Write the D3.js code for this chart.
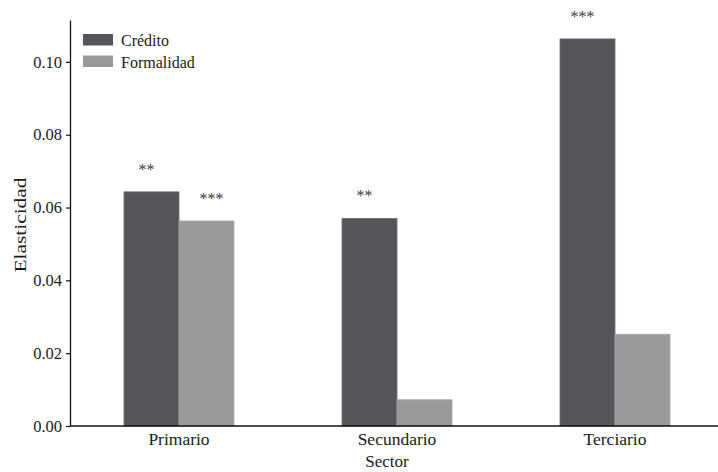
<!DOCTYPE html>
<html>
<head>
<meta charset="utf-8">
<script src="https://cdn.jsdelivr.net/npm/d3@7"></script>
<style>
  body { margin: 0; background: #fff; }
  svg { display: block; }
  text { font-family: "Liberation Serif", "DejaVu Serif", serif; }
</style>
</head>
<body>
<svg id="chart" width="718" height="472"></svg>
<script>
// Elasticities by economic sector
const sectors = ["Primario", "Secundario", "Terciario"];
const seriesNames = ["Crédito", "Formalidad"];
const credito = [0.0643, 0.0570, 0.1063];
const formalidad = [0.0563, 0.0072, 0.0252];
const sigCredito = ["**", "**", "***"];
const sigFormalidad = ["***", "", ""];
const yTicks = [0, 0.02, 0.04, 0.06, 0.08, 0.10];
const colors = ["#55565b", "#999999"];
const strokes = ["#6b6c71", "#a9a9a9"];

const svg = d3.select("#chart");
const plotLeft = 70, plotRight = 718, plotTop = 20, plotBottom = 426;
const serif = "Liberation Serif, serif";

const y = d3.scaleLinear().domain([0, 0.1115]).range([plotBottom, plotTop]);
const x0 = d3.scaleBand().domain(sectors).range([plotLeft, 724]);
const x1 = d3.scaleBand().domain(seriesNames)
  .range([x0.bandwidth() / 2 - 55, x0.bandwidth() / 2 + 55]);

const values = [credito, formalidad];
const sigs = [sigCredito, sigFormalidad];
const starShift = [-5, 5];

// bars with significance stars
sectors.forEach((s, i) => {
  seriesNames.forEach((name, k) => {
    const v = values[k][i];
    svg.append("rect")
      .attr("x", x0(s) + x1(name))
      .attr("y", y(v))
      .attr("width", x1.bandwidth())
      .attr("height", y(0) - y(v))
      .attr("fill", colors[k])
      .attr("stroke", strokes[k])
      .attr("stroke-width", 0.8);
    if (sigs[k][i]) {
      svg.append("text")
        .attr("x", x0(s) + x1(name) + x1.bandwidth() / 2 + starShift[k])
        .attr("y", y(v) - 17)
        .attr("text-anchor", "middle")
        .attr("font-size", 16)
        .attr("fill", "#3a3a3a")
        .text(sigs[k][i]);
    }
  });
});

// y axis
const yAxis = svg.append("g")
  .attr("transform", `translate(${plotLeft},0)`)
  .call(d3.axisLeft(y).tickValues(yTicks).tickFormat(d3.format(".2f"))
    .tickSize(4).tickSizeOuter(0));
yAxis.attr("font-family", serif);
yAxis.select(".domain").attr("stroke", "#111").attr("stroke-width", 1.3);
yAxis.selectAll(".tick line").attr("stroke", "#111").attr("stroke-width", 1.2);
yAxis.selectAll(".tick text")
  .attr("font-family", serif)
  .attr("font-size", 16.5).attr("fill", "#1a1a1a").attr("x", -8);

// x axis
svg.append("line")
  .attr("x1", plotLeft).attr("x2", plotRight)
  .attr("y1", plotBottom).attr("y2", plotBottom)
  .attr("stroke", "#111").attr("stroke-width", 1.3);
sectors.forEach(s => {
  svg.append("text")
    .attr("x", x0(s) + x0.bandwidth() / 2)
    .attr("y", 445)
    .attr("text-anchor", "middle")
    .attr("font-size", 17.5).attr("fill", "#1a1a1a")
    .text(s);
});

// axis titles
svg.append("text")
  .attr("x", 387).attr("y", 467)
  .attr("text-anchor", "middle")
  .attr("font-size", 17).attr("fill", "#1a1a1a")
  .text("Sector");
svg.append("text")
  .attr("transform", "translate(26,225) rotate(-90)")
  .attr("text-anchor", "middle")
  .attr("font-size", 16)
  .attr("textLength", 95)
  .attr("lengthAdjust", "spacingAndGlyphs")
  .attr("fill", "#1a1a1a")
  .text("Elasticidad");

// legend
seriesNames.forEach((name, k) => {
  const ly = 34 + k * 21.5;
  svg.append("rect")
    .attr("x", 83).attr("y", ly)
    .attr("width", 30).attr("height", 11.5)
    .attr("fill", colors[k]);
  svg.append("text")
    .attr("x", 121).attr("y", ly + 12)
    .attr("font-size", 16).attr("fill", "#1a1a1a")
    .text(name);
});
</script>
</body>
</html>
